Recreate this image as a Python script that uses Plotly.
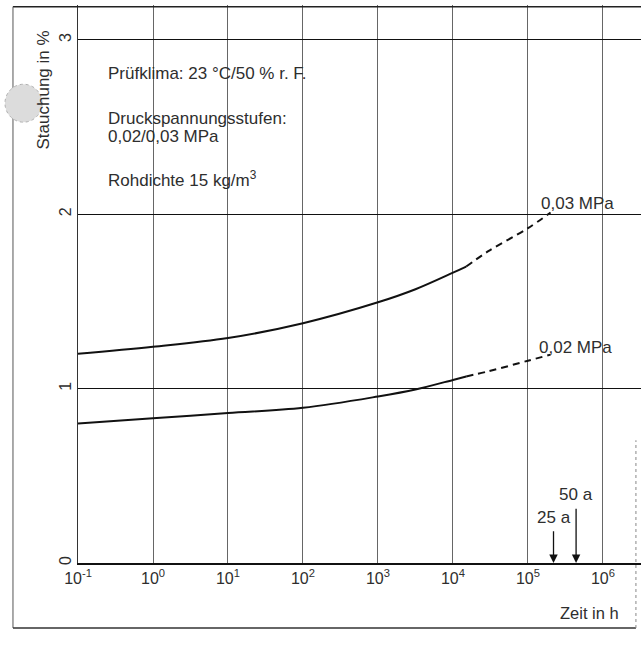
import math
import plotly.graph_objects as go

# ---- data ----
zeit_solid = [0.1, 1, 10, 100, 1000, 3162, 10000, 15000]
stauch_003_solid = [1.20, 1.24, 1.29, 1.375, 1.495, 1.57, 1.665, 1.70]
stauch_002_solid = [0.80, 0.83, 0.86, 0.89, 0.955, 0.995, 1.05, 1.07]

zeit_dash = [15000, 30000, 100000, 200000]
stauch_003_dash = [1.70, 1.79, 1.92, 2.01]
stauch_002_dash = [1.07, 1.10, 1.16, 1.195]

x_tickvals = [0.1, 1, 10, 100, 1000, 10000, 100000, 1000000]
x_ticktext = ["10<sup>-1</sup>", "10<sup>0</sup>", "10<sup>1</sup>", "10<sup>2</sup>",
              "10<sup>3</sup>", "10<sup>4</sup>", "10<sup>5</sup>", "10<sup>6</sup>"]
y_tickvals = [0, 1, 2, 3]

marker_labels = ["25 a", "50 a"]
marker_hours = [25 * 8760, 50 * 8760]
marker_tail = [0.19, 0.32]
marker_text_y = [0.26, 0.39]

FONT = "Liberation Sans, Arial, sans-serif"
INK = "#2e2e2e"
TXT = 17


def note(text, x, y, size=TXT, xanchor="left", **kw):
    d = dict(text=text, xref="paper", yref="paper", x=x, y=y, xanchor=xanchor,
             yanchor="middle", showarrow=False,
             font=dict(size=size, color=INK, family=FONT))
    d.update(kw)
    return d


fig = go.Figure()
for xs, ys, dash in [(zeit_solid, stauch_003_solid, "solid"),
                     (zeit_solid, stauch_002_solid, "solid"),
                     (zeit_dash, stauch_003_dash, "7px,5px"),
                     (zeit_dash, stauch_002_dash, "7px,5px")]:
    fig.add_trace(go.Scatter(x=xs, y=ys, mode="lines",
                             line=dict(color="#111", width=2, dash=dash, shape="spline"),
                             showlegend=False, hoverinfo="skip"))

ann = []
ann.append(note("Stauchung in %", -0.061, 0.848, size=17, xanchor="center", textangle=-90))
ann.append(note("Prüfklima: 23 °C/50 % r. F.", 0.05, 0.878))
ann.append(note("Druckspannungsstufen:", 0.05, 0.796))
ann.append(note("0,02/0,03 MPa", 0.05, 0.7635))
ann.append(note("Rohdichte 15 kg/m<sup>3</sup>", 0.05, 0.688))
ann.append(note("0,03 MPa", 0.818, 0.645))
ann.append(note("0,02 MPa", 0.815, 0.387))
ann.append(note("Zeit in h", 0.908, -0.0896, size=16.5, xanchor="center"))
for lab, h, tail, ty in zip(marker_labels, marker_hours, marker_tail, marker_text_y):
    lx = math.log10(h)
    ann.append(dict(x=lx, y=0, xref="x", yref="y", ax=lx, ay=tail, axref="x", ayref="y",
                    text="", showarrow=True, arrowhead=2, arrowsize=1.3, arrowwidth=1.3,
                    arrowcolor="#111"))
    ann.append(dict(x=lx, y=ty, xref="x", yref="y", text=lab, showarrow=False,
                    xanchor="center", yanchor="middle",
                    font=dict(size=TXT, color=INK, family=FONT)))

shapes = [
    # top frame line
    dict(type="line", xref="paper", yref="paper", x0=-0.1155, x1=1.0, y0=0.997, y1=0.997,
         line=dict(color="#222", width=1.5), layer="above"),
    # outer frame left / bottom / right
    dict(type="line", xref="paper", yref="paper", x0=-0.1155, x1=-0.1155, y0=0.997, y1=-0.1165,
         line=dict(color="#555", width=1)),
    dict(type="line", xref="paper", yref="paper", x0=-0.1155, x1=0.991, y0=-0.1165, y1=-0.1165,
         line=dict(color="#333", width=1.3)),
    dict(type="line", xref="paper", yref="paper", x0=0.991, x1=0.991, y0=-0.1165, y1=0.22,
         line=dict(color="#888", width=1, dash="dot")),
    # punched-hole artefact
    dict(type="circle", xref="paper", yref="paper", x0=-0.1297, x1=-0.0639, y0=0.790, y1=0.858,
         fillcolor="#dcdcdc", line=dict(color="#b0b0b0", width=1, dash="dot"), layer="above"),
]

fig.update_layout(
    width=641, height=646,
    margin=dict(l=78, r=0, t=5, b=83),
    paper_bgcolor="white", plot_bgcolor="white",
    font=dict(family=FONT, color=INK, size=17),
    annotations=ann, shapes=shapes,
    xaxis=dict(type="log", range=[-1, 6.507], tickvals=x_tickvals, ticktext=x_ticktext,
               showgrid=True, gridcolor="#666", gridwidth=1,
               showline=True, linecolor="#111", linewidth=1.5, ticks="",
               tickfont=dict(size=16, color=INK), zeroline=False),
    yaxis=dict(range=[0, 3.2], tickvals=y_tickvals, tickangle=-90,
               showgrid=True, gridcolor="#111", gridwidth=1.3,
               showline=True, linecolor="#333", linewidth=1.2, ticks="",
               tickfont=dict(size=16, color=INK), zeroline=False),
)

fig.write_html("out.html", config={"displayModeBar": False},
               post_script="document.body.style.margin='0';")
